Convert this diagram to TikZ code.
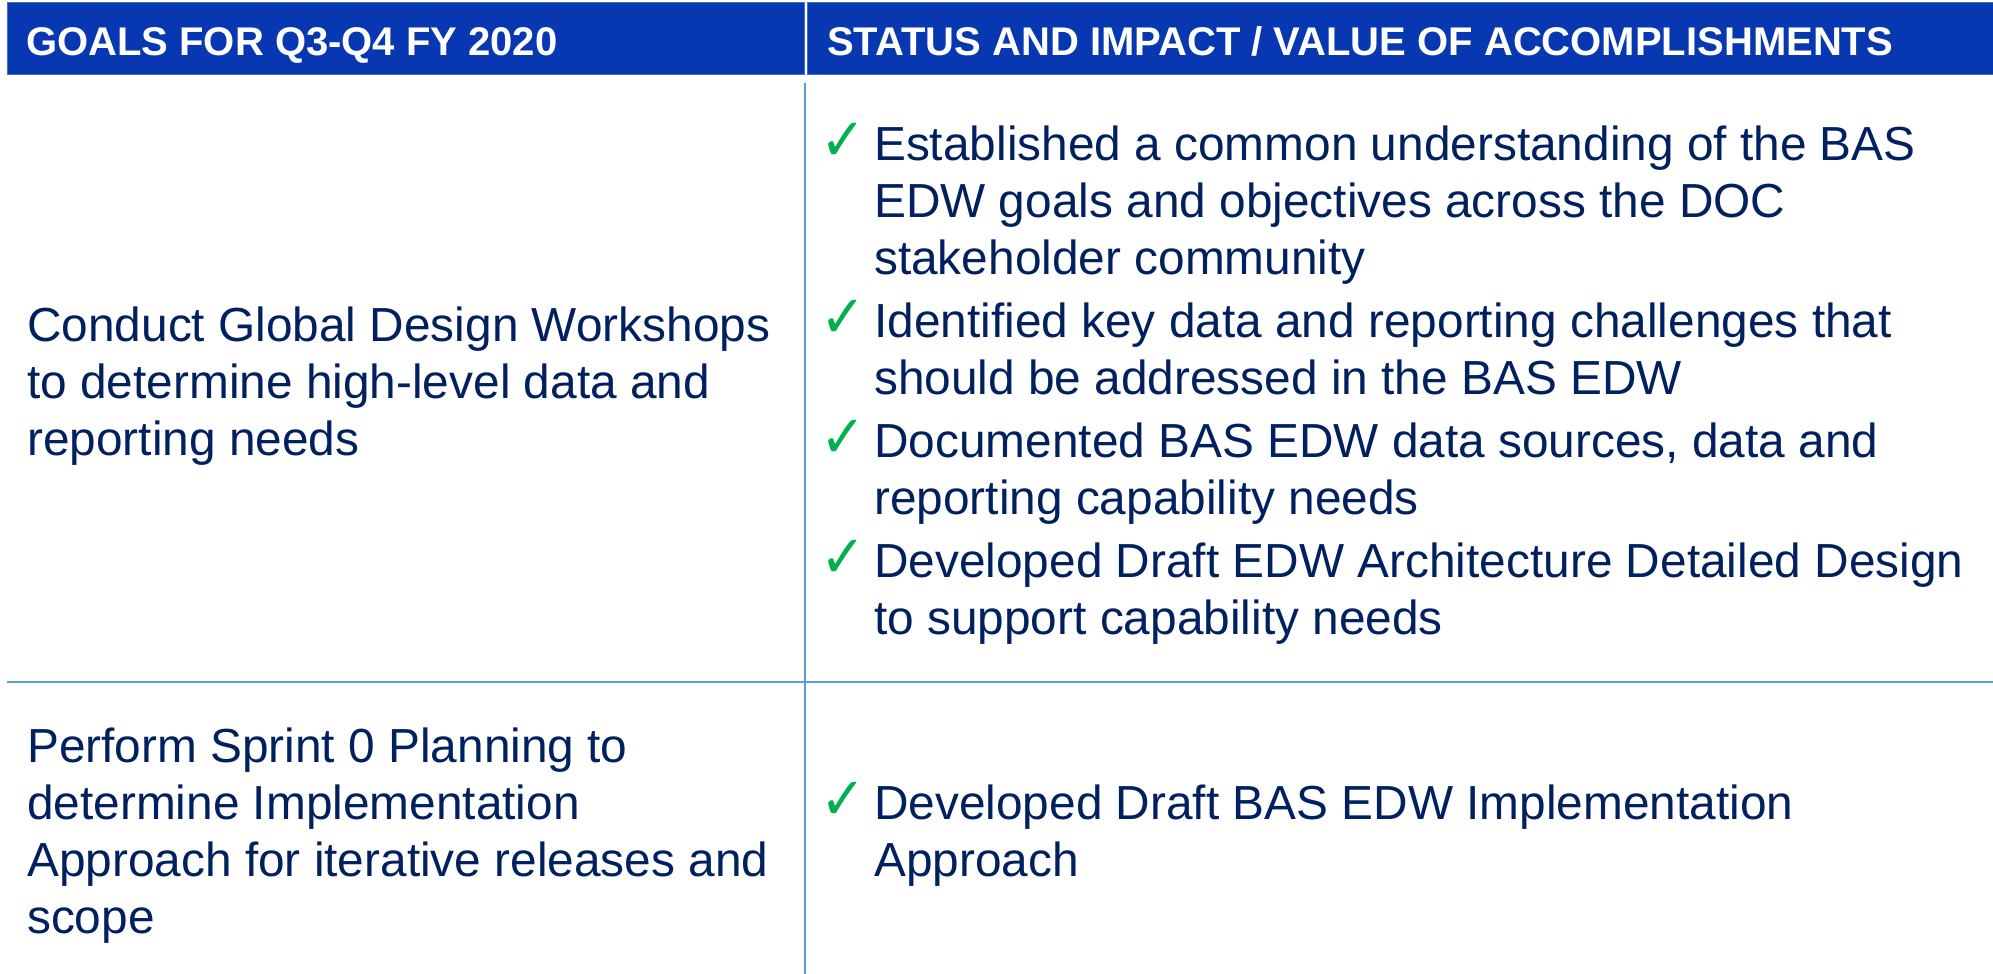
\documentclass[tikz,border=0pt]{standalone}
\usepackage{fontspec}
\usepackage{graphicx}
\setmainfont{Liberation Sans}
\newfontfamily\checkfont{DejaVu Sans}
\definecolor{hdrblue}{RGB}{7,56,177}
\definecolor{hdredge}{RGB}{70,110,200}
\definecolor{navy}{RGB}{0,32,96}
\definecolor{rulecol}{RGB}{91,155,213}
\definecolor{checkgreen}{RGB}{0,176,80}
\newcommand{\bodyfont}{\fontsize{47.8bp}{57bp}\selectfont}
\newcommand{\hdrfont}{\fontsize{40bp}{45bp}\selectfont\bfseries}
\newcommand{\ck}{\checkfont\fontsize{40bp}{40bp}\selectfont\scalebox{1.36}[1.48]{✓}}
\begin{document}
\begin{tikzpicture}[x=1bp,y=-1bp,
  hdrtext/.style={anchor=base west,inner sep=0,text=white,font=\hdrfont},
  bodytext/.style={anchor=base west,inner sep=0,text=navy,font=\bodyfont},
  checkmark/.style={anchor=base west,inner sep=0,text=checkgreen},
  tablerule/.style={draw=rulecol,line width=1.6bp}]
\useasboundingbox (0,0) rectangle (1993,974);
\fill[white] (0,0) rectangle (1993,974);
% header cells
\filldraw[fill=hdrblue,draw=hdredge,line width=0.8bp] (7,2) rectangle (804,74);
\filldraw[fill=hdrblue,draw=hdredge,line width=0.8bp] (807,2) rectangle (1993,74);
\node[hdrtext] (h1) at (26,55) {GOALS FOR Q3-Q4 FY 2020};
\node[hdrtext] (h2) at (827,55) {STATUS AND IMPACT / VALUE OF ACCOMPLISHMENTS};
% rules
\coordinate (vtop) at (805,83);
\coordinate (vbot) at (805,974);
\coordinate (hl) at (7,682);
\coordinate (hr) at (1993,682);
\draw[tablerule] (vtop) -- (vbot);
\draw[tablerule] (hl) -- (hr);
% left column
\node[bodytext] (g1) at (27,341) {\parbox[t]{770bp}{\raggedright\bodyfont Conduct Global Design Workshops\\ to determine high-level data and\\ reporting needs}};
\node[bodytext] (g2) at (27,762) {\parbox[t]{770bp}{\raggedright\bodyfont Perform Sprint 0 Planning to\\ determine Implementation\\ Approach for iterative releases and\\ scope}};
% right column, row 1
\node[checkmark] (c1) at (820,160.7) {\ck};
\node[bodytext] (s1) at (874,160.7) {\parbox[t]{1110bp}{\raggedright\bodyfont Established a common understanding of the BAS\\ EDW goals and objectives across the DOC\\ stakeholder community}};
\node[checkmark] (c2) at (820,337.7) {\ck};
\node[bodytext] (s2) at (874,337.7) {\parbox[t]{1110bp}{\raggedright\bodyfont Identified key data and reporting challenges that\\ should be addressed in the BAS EDW}};
\node[checkmark] (c3) at (820,457.7) {\ck};
\node[bodytext] (s3) at (874,457.7) {\parbox[t]{1110bp}{\raggedright\bodyfont Documented BAS EDW data sources, data and\\ reporting capability needs}};
\node[checkmark] (c4) at (820,577.7) {\ck};
\node[bodytext] (s4) at (874,577.7) {\parbox[t]{1110bp}{\raggedright\bodyfont Developed Draft EDW Architecture Detailed Design\\ to support capability needs}};
% right column, row 2
\node[checkmark] (c5) at (820,819) {\ck};
\node[bodytext] (s5) at (874,819) {\parbox[t]{1110bp}{\raggedright\bodyfont Developed Draft BAS EDW Implementation\\ Approach}};
\end{tikzpicture}
\end{document}
